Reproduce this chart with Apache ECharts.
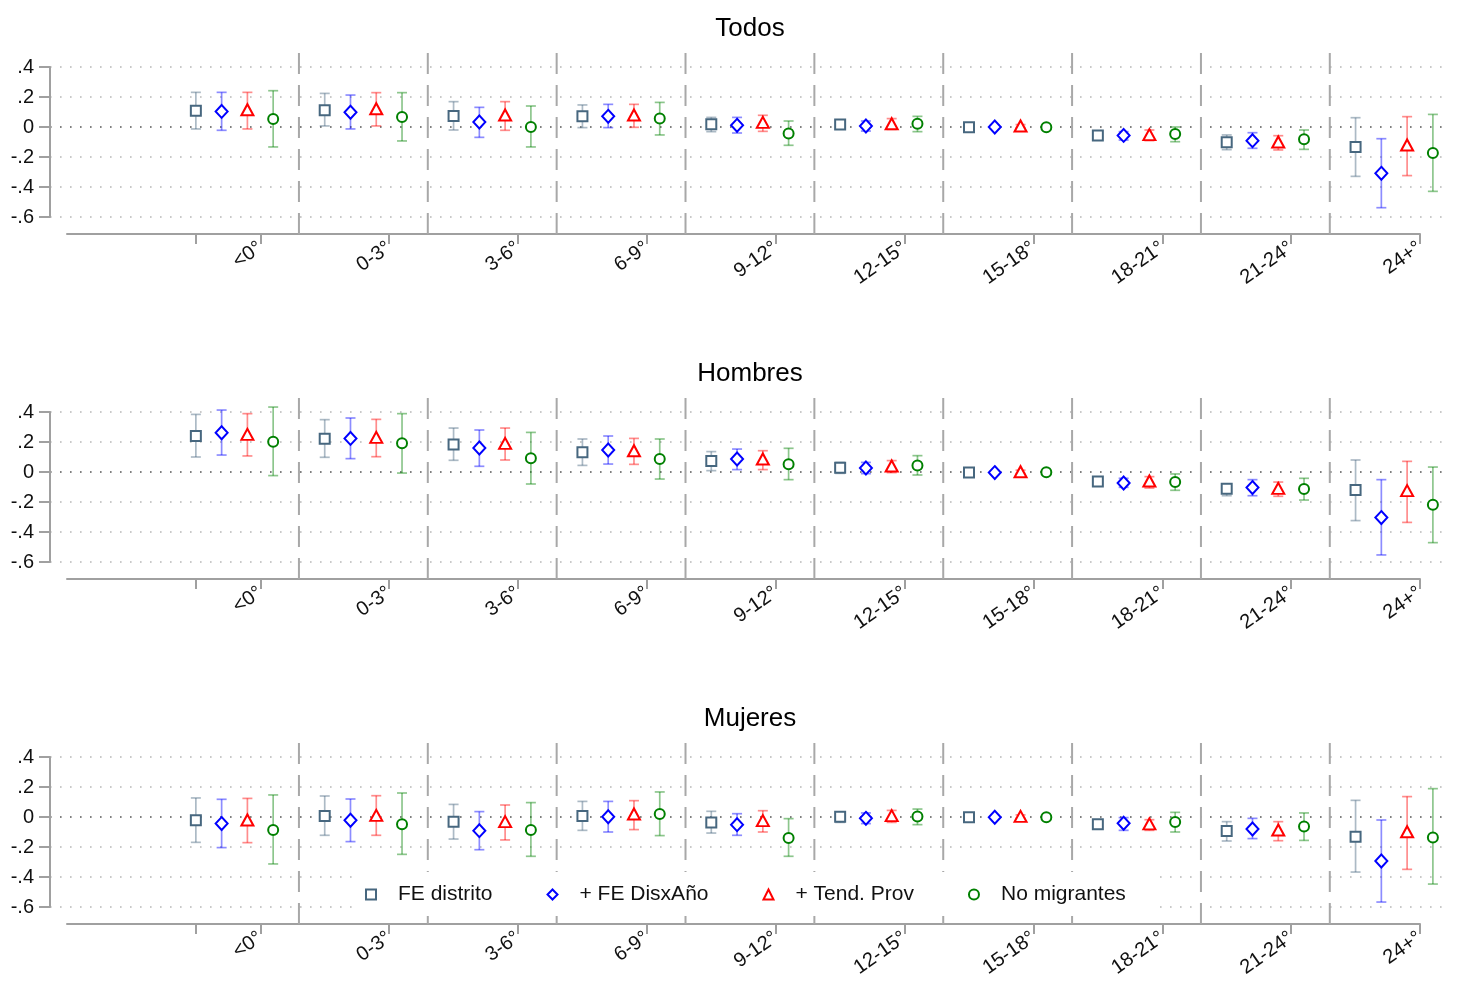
<!DOCTYPE html>
<html>
<head>
<meta charset="utf-8">
<script src="https://cdn.jsdelivr.net/npm/echarts@6/dist/echarts.min.js"></script>
<style>
html, body { margin: 0; padding: 0; background: #fff; }
#chart { width: 1460px; height: 981px; }
</style>
</head>
<body>
<div id="chart"></div>
<script>
var categories = ['<0°', '0-3°', '3-6°', '6-9°', '9-12°', '12-15°', '15-18°', '18-21°', '21-24°', '24+°'];
var panelTitles = ['Todos', 'Hombres', 'Mujeres'];
var seriesNames = ['FE distrito', '+ FE DisxAño', '+ Tend. Prov', 'No migrantes'];
var yTickValues = [0.4, 0.2, 0, -0.2, -0.4, -0.6];
var yTickLabels = ['.4', '.2', '0', '-.2', '-.4', '-.6'];

// Todos: one row per series (FE distrito, + FE DisxAño, + Tend. Prov, No migrantes)
var todosEst = [
	[0.109, 0.111, 0.073, 0.071, 0.018, 0.016, -0.002, -0.056, -0.102, -0.133],
	[0.104, 0.098, 0.033, 0.071, 0.011, 0.007, 0.000, -0.056, -0.091, -0.309],
	[0.115, 0.122, 0.080, 0.080, 0.031, 0.022, 0.007, -0.051, -0.100, -0.120],
	[0.053, 0.067, 0.000, 0.056, -0.044, 0.022, -0.002, -0.047, -0.082, -0.173]
];
var todosLo = [
	[-0.013, 0.007, -0.020, -0.004, -0.031, -0.011, -0.016, -0.082, -0.151, -0.329],
	[-0.022, -0.013, -0.069, -0.004, -0.040, -0.027, -0.012, -0.087, -0.142, -0.538],
	[-0.013, 0.007, -0.022, -0.002, -0.029, -0.016, -0.004, -0.091, -0.153, -0.324],
	[-0.133, -0.093, -0.133, -0.053, -0.122, -0.031, -0.014, -0.098, -0.149, -0.429]
];
var todosHi = [
	[0.231, 0.224, 0.169, 0.147, 0.064, 0.040, 0.011, -0.031, -0.053, 0.062],
	[0.231, 0.213, 0.131, 0.151, 0.064, 0.040, 0.012, -0.031, -0.038, -0.078],
	[0.231, 0.229, 0.169, 0.151, 0.078, 0.056, 0.016, -0.020, -0.058, 0.069],
	[0.242, 0.229, 0.140, 0.164, 0.040, 0.071, 0.010, 0.000, -0.020, 0.084]
];

// Hombres
var hombresEst = [
	[0.240, 0.222, 0.184, 0.131, 0.073, 0.029, -0.004, -0.064, -0.111, -0.120],
	[0.262, 0.224, 0.160, 0.147, 0.087, 0.027, -0.004, -0.073, -0.104, -0.304],
	[0.251, 0.231, 0.191, 0.142, 0.087, 0.040, 0.002, -0.060, -0.109, -0.124],
	[0.202, 0.191, 0.091, 0.087, 0.051, 0.044, -0.002, -0.067, -0.113, -0.218]
];
var hombresLo = [
	[0.100, 0.098, 0.078, 0.044, 0.009, -0.009, -0.018, -0.093, -0.158, -0.324],
	[0.113, 0.089, 0.038, 0.053, 0.016, -0.011, -0.016, -0.102, -0.158, -0.553],
	[0.107, 0.102, 0.080, 0.051, 0.016, -0.004, -0.010, -0.107, -0.162, -0.336],
	[-0.024, -0.007, -0.080, -0.047, -0.051, -0.020, -0.012, -0.122, -0.187, -0.471]
];
var hombresHi = [
	[0.384, 0.349, 0.293, 0.220, 0.136, 0.064, 0.009, -0.040, -0.084, 0.080],
	[0.413, 0.360, 0.280, 0.240, 0.153, 0.064, 0.008, -0.042, -0.051, -0.051],
	[0.389, 0.351, 0.293, 0.224, 0.142, 0.076, 0.012, -0.031, -0.067, 0.071],
	[0.433, 0.389, 0.264, 0.220, 0.158, 0.109, 0.008, -0.013, -0.042, 0.033]
];

// Mujeres
var mujeresEst = [
	[-0.022, 0.007, -0.031, 0.007, -0.036, 0.002, -0.002, -0.049, -0.093, -0.131],
	[-0.044, -0.022, -0.091, 0.002, -0.051, -0.009, -0.002, -0.042, -0.080, -0.293],
	[-0.020, 0.011, -0.031, 0.020, -0.024, 0.009, 0.004, -0.046, -0.087, -0.098],
	[-0.087, -0.049, -0.087, 0.020, -0.140, 0.004, -0.002, -0.033, -0.064, -0.136]
];
var mujeresLo = [
	[-0.169, -0.122, -0.147, -0.089, -0.107, -0.036, -0.014, -0.073, -0.160, -0.367],
	[-0.204, -0.164, -0.218, -0.100, -0.122, -0.044, -0.012, -0.089, -0.144, -0.567],
	[-0.171, -0.122, -0.153, -0.084, -0.100, -0.036, -0.008, -0.089, -0.158, -0.349],
	[-0.313, -0.249, -0.262, -0.124, -0.262, -0.051, -0.012, -0.100, -0.156, -0.447]
];
var mujeresHi = [
	[0.127, 0.140, 0.084, 0.104, 0.038, 0.029, 0.010, -0.027, -0.031, 0.111],
	[0.118, 0.120, 0.036, 0.104, 0.022, 0.027, 0.008, -0.004, -0.009, -0.020],
	[0.124, 0.142, 0.080, 0.109, 0.042, 0.044, 0.014, -0.018, -0.031, 0.136],
	[0.147, 0.160, 0.096, 0.167, -0.011, 0.053, 0.008, 0.031, 0.027, 0.189]
];

var estimates = [todosEst, hombresEst, mujeresEst];
var lowers = [todosLo, hombresLo, mujeresLo];
var uppers = [todosHi, hombresHi, mujeresHi];

// styles
var FONT = 'Liberation Sans, Arial, Helvetica, sans-serif';
var colors = ['#47677f', '#0000ff', '#ff0000', '#008000'];
var ciColors = ['rgba(71,103,127,0.45)', 'rgba(0,0,255,0.45)', 'rgba(255,0,0,0.45)', 'rgba(0,128,0,0.45)'];
var symbols = ['emptyRect', 'emptyDiamond', 'emptyTriangle', 'emptyCircle'];
var symbolSizes = [[10, 10], [12, 13], [12, 11], [10, 10]];
var legendIcons = ['rect', 'diamond', 'triangle', 'circle'];

// layout (pixels)
var panelTop = [67, 412, 757];
var plotH = 150;
var GROUP = 5;               // slots per category (4 series + gap)
var XMIN = -5, XMAX = 47.5;  // x range of the drawn axis
var SEP_TOP = 0.513, SEP_BOT = -0.713;

var grids = [], xAxes = [], yAxes = [], series = [], titles = [];

function errorBar(color) {
	return function (params, api) {
		var x = api.value(0);
		var top = api.coord([x, api.value(2)]);
		var bot = api.coord([x, api.value(1)]);
		var hw = 5;
		var st = { stroke: color, lineWidth: 1.7, fill: null };
		return {
			type: 'group',
			children: [
				{ type: 'line', shape: { x1: top[0], y1: top[1], x2: bot[0], y2: bot[1] }, style: st },
				{ type: 'line', shape: { x1: top[0] - hw, y1: top[1], x2: top[0] + hw, y2: top[1] }, style: st },
				{ type: 'line', shape: { x1: bot[0] - hw, y1: bot[1], x2: bot[0] + hw, y2: bot[1] }, style: st }
			]
		};
	};
}

function separator(params, api) {
	var x = api.value(0);
	var a = api.coord([x, SEP_BOT]);
	var b = api.coord([x, SEP_TOP]);
	return {
		type: 'line',
		shape: { x1: a[0], y1: a[1], x2: b[0], y2: b[1] },
		style: { stroke: '#a8a8a8', lineWidth: 2, lineDash: [21, 11] }
	};
}

var labelPos = categories.map(function (c, i) { return GROUP * i + 2.5; });

panelTitles.forEach(function (t, p) {
	var top = panelTop[p];
	titles.push({
		text: t,
		left: 745,
		top: top - 56,
		textAlign: 'center',
		textStyle: { fontFamily: FONT, fontSize: 26, fontWeight: 'normal', color: '#000' }
	});

	// grid A: y axis and dotted gridlines
	grids.push({ left: 50, right: 10, top: top, height: plotH });
	xAxes.push({ gridIndex: 2 * p, type: 'value', min: 0, max: 1, show: false });
	yAxes.push({
		gridIndex: 2 * p,
		type: 'value',
		min: -0.6,
		max: 0.4,
		interval: 0.2,
		axisLine: { show: true, lineStyle: { color: '#a0a0a0', width: 2 } },
		axisTick: { show: true, length: 11, lineStyle: { color: '#a0a0a0', width: 2 } },
		axisLabel: {
			margin: 16,
			fontFamily: FONT,
			fontSize: 20,
			color: '#111',
			formatter: function (v) {
				var i = yTickValues.findIndex(function (t) { return Math.abs(t - v) < 1e-6; });
				return i >= 0 ? yTickLabels[i] : '';
			}
		},
		splitLine: {
			show: true,
			lineStyle: {
				color: ['#b8b8b8', '#b8b8b8', '#b8b8b8', '#555555', '#b8b8b8', '#b8b8b8'],
				width: 1.6,
				type: [1.6, 8.4]
			}
		}
	});

	// grid B: category axis and the marks
	grids.push({ left: 67, right: 40, top: top, height: plotH });
	xAxes.push({
		gridIndex: 2 * p + 1,
		type: 'value',
		min: XMIN,
		max: XMAX,
		offset: 17,
		axisLine: { show: true, onZero: false, lineStyle: { color: '#a0a0a0', width: 2 } },
		axisTick: { show: true, length: 10, customValues: [0].concat(labelPos), lineStyle: { color: '#a0a0a0', width: 2 } },
		axisLabel: {
			customValues: labelPos,
			rotate: 35,
			margin: 12,
			fontFamily: FONT,
			fontSize: 20,
			color: '#111',
			formatter: function (v) {
				return categories[Math.round((v - 2.5) / GROUP)] || '';
			}
		},
		splitLine: { show: false }
	});
	yAxes.push({ gridIndex: 2 * p + 1, type: 'value', min: -0.6, max: 0.4, show: false });

	series.push({
		type: 'custom',
		xAxisIndex: 2 * p + 1,
		yAxisIndex: 2 * p + 1,
		clip: false,
		silent: true,
		z: 1,
		renderItem: separator,
		encode: { x: 0, y: 1 },
		data: categories.slice(1).map(function (c, i) { return [GROUP * (i + 1) - 1, 0]; })
	});

	seriesNames.forEach(function (name, s) {
		series.push({
			type: 'custom',
			name: name,
			xAxisIndex: 2 * p + 1,
			yAxisIndex: 2 * p + 1,
			clip: false,
			silent: true,
			z: 2,
			renderItem: errorBar(ciColors[s]),
			encode: { x: 0, y: [1, 2] },
			data: categories.map(function (c, g) {
				return [GROUP * g + s, lowers[p][s][g], uppers[p][s][g]];
			})
		});
		series.push({
			type: 'scatter',
			name: name,
			xAxisIndex: 2 * p + 1,
			yAxisIndex: 2 * p + 1,
			clip: false,
			symbol: symbols[s],
			symbolSize: symbolSizes[s],
			z: 3,
			itemStyle: { color: colors[s], borderWidth: 2.2, opacity: 1 },
			data: categories.map(function (c, g) {
				return [GROUP * g + s, estimates[p][s][g]];
			})
		});
	});
});

var option = {
	backgroundColor: '#fff',
	animation: false,
	title: titles,
	legend: {
		left: 356,
		top: 872,
		padding: [12, 29, 11, 9],
		backgroundColor: '#fff',
		itemWidth: 10,
		itemHeight: 10,
		itemGap: 54,
		selectedMode: false,
		textStyle: { fontFamily: FONT, fontSize: 21, color: '#111', padding: [0, 0, 0, 17] },
		data: seriesNames.map(function (n, s) {
			return {
				name: n,
				icon: legendIcons[s],
				itemStyle: { color: '#fff', borderColor: colors[s], borderWidth: 2 }
			};
		})
	},
	grid: grids,
	xAxis: xAxes,
	yAxis: yAxes,
	series: series
};

var chart = echarts.init(document.getElementById('chart'));
chart.setOption(option);
</script>
</body>
</html>
